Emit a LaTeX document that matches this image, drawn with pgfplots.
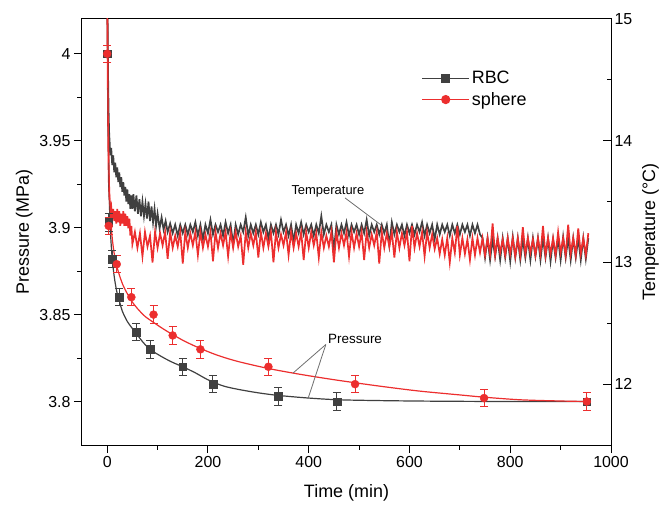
\documentclass[border=0pt]{standalone}
\usepackage{fontspec}
\setmainfont{Liberation Sans}
\usepackage{pgfplots}
\pgfplotsset{compat=1.18}
\definecolor{rbc}{RGB}{64,64,64}
\definecolor{sph}{RGB}{236,46,46}
\definecolor{lead}{RGB}{110,110,110}

\pgfplotsset{
  common/.style={
    scale only axis, width=529bp, height=426bp,
    xmin=-50, xmax=1000,
    /pgf/number format/assume math mode=true,
    /pgf/number format/1000 sep={},
    ticklabel style={font=\fontsize{16}{19}\selectfont},
    label style={font=\fontsize{18}{21}\selectfont},
    axis line style={line width=1bp},
    every tick/.style={black, line width=1bp},
    major tick length=8bp, minor tick length=4.5bp,
  },
}

\begin{document}
\begin{tikzpicture}
\useasboundingbox (-82bp,-61bp) rectangle (583bp,445bp);

% temperature, right axis
\begin{axis}[common,
  ymin=11.5, ymax=15,
  axis x line=none, axis y line*=right,
  tick align=inside,
  ytick={12,13,14,15}, minor ytick={11.5,12.5,13.5,14.5},
  ylabel={Temperature (°C)},
  ylabel style={yshift=-3bp},
]
\addplot[rbc, line width=1.7bp, sharp plot] coordinates {
(0,15.6) (1,14.9) (2,14.45) (3,14.2) (4,14.05) (5,13.98) (6,13.88) (8,13.94) (10,13.8) (12,13.88)
(14,13.74) (16,13.82) (18,13.7) (20,13.78) (22,13.66) (24,13.74) (26,13.62) (28,13.7) (30,13.58) (32,13.66)
(34,13.55) (36,13.62) (38,13.5) (40,13.6) (42,13.48) (44,13.56) (46,13.44) (48,13.55) (50,13.44) (52,13.56)
(55,13.42) (58,13.55) (61,13.4) (64,13.52) (67,13.38) (70,13.5) (73,13.38) (76,13.48) (79,13.36) (82,13.5)
(85,13.34) (88,13.46) (91,13.33) (94,13.44) (97,13.3) (100,13.4) (104,13.28) (108,13.37) (112,13.27) (116,13.34)
(120,13.25) (125,13.32) (130,13.24) (135,13.31) (140,13.22) (145,13.31) (150,13.24)
(155,13.31) (160,13.23) (165,13.31) (170,13.25) (175,13.33) (180,13.22) (185,13.31) (190,13.19) (195,13.31) (200,13.24)
(205,13.35) (210,13.23) (215,13.31) (220,13.25) (225,13.31) (230,13.22) (235,13.33) (240,13.24) (245,13.31) (250,13.15)
(255,13.31) (260,13.23) (265,13.31) (270,13.25) (275,13.37) (280,13.22) (285,13.31) (290,13.24) (295,13.31) (300,13.23)
(305,13.33) (310,13.25) (315,13.31) (320,13.2) (325,13.31) (330,13.24) (335,13.31) (340,13.23) (345,13.35) (350,13.25)
(355,13.31) (360,13.22) (365,13.31) (370,13.17) (375,13.31) (380,13.24) (385,13.33) (390,13.23) (395,13.31) (400,13.25)
(405,13.31) (410,13.22) (415,13.31) (420,13.24) (425,13.38) (430,13.23) (435,13.31) (440,13.25) (445,13.31) (450,13.1)
(455,13.31) (460,13.23) (465,13.31) (470,13.24) (475,13.33) (480,13.22) (485,13.31) (490,13.25) (495,13.31) (500,13.23)
(505,13.31) (510,13.24) (515,13.35) (520,13.22) (525,13.31) (530,13.25) (535,13.31) (540,13.23) (545,13.31) (550,13.24)
(555,13.31) (560,13.14) (565,13.33) (570,13.23) (575,13.31) (580,13.25) (585,13.31) (590,13.22) (595,13.31) (600,13.24)
(605,13.31) (610,13.23) (615,13.31) (620,13.25) (625,13.33) (630,13.22) (635,13.31) (640,13.24) (645,13.31) (650,13.19)
(655,13.31) (660,13.23) (665,13.31) (670,13.25) (675,13.31) (680,13.22) (685,13.31) (690,13.24) (695,13.31) (700,13.23)
(705,13.31) (710,13.25) (715,13.31) (720,13.22) (725,13.31) (730,13.24) (735,13.31) (740,13.23)
(745,13.2) (750,13.04) (755,13.2) (760,13.02) (765,13.19) (770,13.05) (775,13.2) (780,13.02) (785,13.2) (790,13.04)
(795,13.2) (800,13.01) (805,13.21) (810,13.04) (815,13.2) (820,13.02) (825,13.19) (830,13.04) (835,13.2) (840,13.02)
(845,13.2) (850,13.05) (855,13.2) (860,13.02) (865,13.2) (870,13.04) (875,13.2) (880,13.01) (885,13.19) (890,13.04)
(895,13.2) (900,13.02) (905,13.21) (910,13.04) (915,13.2) (920,13.02) (925,13.2) (930,13.04) (935,13.2) (940,13.02)
(945,13.2) (950,13.03) (955,13.2)
};
\addplot[sph, line width=1.7bp, sharp plot] coordinates {
(0,15.6) (1,14.6) (2,14.0) (3,13.7) (4,13.55) (5,13.5) (6,13.42) (8,13.46) (10,13.36) (12,13.44)
(14,13.34) (16,13.42) (18,13.32) (20,13.44) (22,13.33) (24,13.42) (26,13.3) (28,13.4) (30,13.32) (32,13.42)
(34,13.3) (36,13.4) (38,13.3) (40,13.38) (42,13.28) (44,13.36) (46,13.22) (48,13.3) (50,13.15)
(55,13.25) (60,13.12) (65,13.24) (70,13.05) (75,13.25) (80,13.13) (85,13.22) (90,13.0) (95,13.25) (100,13.12)
(105,13.24) (110,13.14) (115,13.25) (120,13.03) (125,13.25) (130,13.12) (135,13.22) (140,13.13) (145,13.25) (150,12.99)
(155,13.25) (160,13.12) (165,13.24) (170,13.14) (175,13.25) (180,13.06) (185,13.25) (190,13.12) (195,13.23) (200,13.13)
(205,13.25) (210,13.01) (215,13.25) (220,13.12) (225,13.24) (230,13.14) (235,13.25) (240,13.05) (245,13.25) (250,13.12)
(255,13.25) (260,13.13) (265,13.22) (270,12.98) (275,13.25) (280,13.12) (285,13.24) (290,13.14) (295,13.25) (300,13.04)
(305,13.25) (310,13.12) (315,13.24) (320,13.13) (325,13.25) (330,13.0) (335,13.25) (340,13.12) (345,13.23) (350,13.14)
(355,13.25) (360,13.06) (365,13.25) (370,13.12) (375,13.24) (380,13.13) (385,13.25) (390,13.02) (395,13.25) (400,13.12)
(405,13.25) (410,13.14) (415,13.24) (420,13.04) (425,13.25) (430,13.12) (435,13.22) (440,13.13) (445,13.25) (450,13.0)
(455,13.25) (460,13.12) (465,13.24) (470,13.14) (475,13.25) (480,13.05) (485,13.25) (490,13.12) (495,13.24) (500,13.13)
(505,13.25) (510,13.02) (515,13.25) (520,13.12) (525,13.23) (530,13.14) (535,13.25) (540,12.99) (545,13.25) (550,13.12)
(555,13.24) (560,13.13) (565,13.25) (570,13.04) (575,13.25) (580,13.12) (585,13.24) (590,13.14) (595,13.25) (600,13.01)
(605,13.3) (610,13.12) (615,13.24) (620,13.13) (625,13.25) (630,13.05) (635,13.25) (640,13.12) (645,13.23) (650,13.11)
(655,13.2) (660,13.07) (665,13.19) (670,13.06) (675,13.2) (680,13.0) (685,13.2) (690,13.08) (695,13.3) (700,13.06)
(705,13.2) (710,13.07) (715,13.19) (720,13.02) (725,13.2) (730,13.06) (735,13.2) (740,13.08) (745,13.2) (750,13.06)
(755,13.2) (760,13.07) (765,13.32) (770,13.06) (775,13.2) (780,13.08) (785,13.19) (790,13.06) (795,13.2) (800,13.07)
(805,13.2) (810,13.05) (815,13.2) (820,13.06) (825,13.29) (830,13.07) (835,13.2) (840,13.08) (845,13.19) (850,13.06)
(855,13.2) (860,13.07) (865,13.3) (870,13.06) (875,13.2) (880,13.07) (885,13.2) (890,13.06) (895,13.25) (900,13.08)
(905,13.2) (910,13.06) (915,13.31) (920,13.07) (925,13.2) (930,13.06) (935,13.28) (940,13.07) (945,13.2) (950,13.06)
(955,13.24)
};
\end{axis}

% pressure, left axis
\begin{axis}[common,
  ymin=3.775, ymax=4.02,
  xtick={0,200,...,1000}, minor x tick num=1,
  ytick={3.8,3.85,3.9,3.95,4}, minor y tick num=1,
  xtick pos=left, ytick pos=left, tick align=outside,
  yticklabel style={/pgf/number format/fixed, /pgf/number format/precision=2},
  xlabel={Time (min)}, ylabel={Pressure (MPa)},
  xlabel style={yshift=-10bp},
  legend style={at={(0.636,0.887)}, anchor=north west, draw=none, fill=none,
    font=\fontsize{18}{21}\selectfont, cells={anchor=west}, row sep=3bp},
  legend image code/.code={
    \draw[mark repeat=2, mark phase=2, #1] plot coordinates {(0bp,0bp) (23.5bp,0bp) (47bp,0bp)};
  },
]
% fitted curves
\addplot[rbc, line width=1.2bp, smooth, forget plot] coordinates {
(0,4.03) (1,3.99) (2,3.96) (3,3.937) (4,3.92) (5,3.908) (6,3.90) (8,3.89) (10,3.882) (13,3.874)
(16,3.868) (20,3.862) (25,3.857) (30,3.852) (40,3.846) (50,3.842) (58,3.839) (70,3.8345) (85,3.83)
(110,3.8255) (130,3.8225) (150,3.82) (175,3.8165) (200,3.8125) (230,3.809) (260,3.807) (300,3.805)
(340,3.8035) (400,3.802) (460,3.801) (550,3.8005) (650,3.8002) (800,3.8) (955,3.8)
};
\addplot[sph, line width=1.2bp, smooth, forget plot] coordinates {
(0,4.03) (1,3.99) (2,3.962) (3,3.942) (4,3.928) (5,3.918) (7,3.905) (10,3.894) (14,3.885) (19,3.878)
(25,3.872) (32,3.8665) (40,3.862) (48,3.858) (60,3.8535) (75,3.849) (92,3.8455) (110,3.842) (130,3.8385)
(155,3.8345) (185,3.8305) (220,3.8265) (260,3.823) (320,3.819) (380,3.8158) (440,3.813) (492,3.8108)
(550,3.8085) (620,3.806) (700,3.8038) (748,3.8025) (820,3.801) (900,3.8003) (952,3.80)
};
% measured points
\addplot[rbc, only marks, mark=square*, mark size=3.8bp, forget plot,
  error bars/.cd, y dir=both, y explicit,
  error bar style={line width=1bp},
  error mark options={rotate=90, mark size=4bp, line width=1bp}]
coordinates {
(0,4.0) +- (0,0.005) (3,3.903) +- (0,0.005) (10,3.882) +- (0,0.005) (24,3.86) +- (0,0.005)
(58,3.84) +- (0,0.005) (85,3.83) +- (0,0.005) (150,3.82) +- (0,0.005) (210,3.81) +- (0,0.005)
(340,3.803) +- (0,0.005) (456,3.80) +- (0,0.005) (952,3.80) +- (0,0.005)
};
\addplot[sph, only marks, mark=*, mark size=4bp, forget plot,
  error bars/.cd, y dir=both, y explicit,
  error bar style={line width=1bp},
  error mark options={rotate=90, mark size=4bp, line width=1bp}]
coordinates {
(0,4.0) +- (0,0.005) (3,3.901) +- (0,0.005) (19,3.879) +- (0,0.005) (48,3.86) +- (0,0.005)
(92,3.85) +- (0,0.005) (130,3.838) +- (0,0.005) (185,3.83) +- (0,0.005) (320,3.82) +- (0,0.005)
(492,3.81) +- (0,0.005) (748,3.802) +- (0,0.005) (952,3.80) +- (0,0.005)
};
\addlegendimage{rbc, line width=1.2bp, mark=square*, mark size=3.8bp}
\addlegendentry{RBC}
\addlegendimage{sph, line width=1.2bp, mark=*, mark size=4bp}
\addlegendentry{sphere}

% annotations
\node[font=\fontsize{13}{15}\selectfont] at (axis cs:438,3.921) {Temperature};
\draw[lead, line width=0.8bp] (axis cs:472,3.9171) -- (axis cs:543,3.9017);
\node[font=\fontsize{13.5}{16}\selectfont] at (axis cs:492,3.8362) {Pressure};
\draw[lead, line width=0.8bp] (axis cs:434,3.8328) -- (axis cs:369,3.8164);
\draw[lead, line width=0.8bp] (axis cs:434,3.8328) -- (axis cs:399,3.802);
\end{axis}
\end{tikzpicture}
\end{document}
